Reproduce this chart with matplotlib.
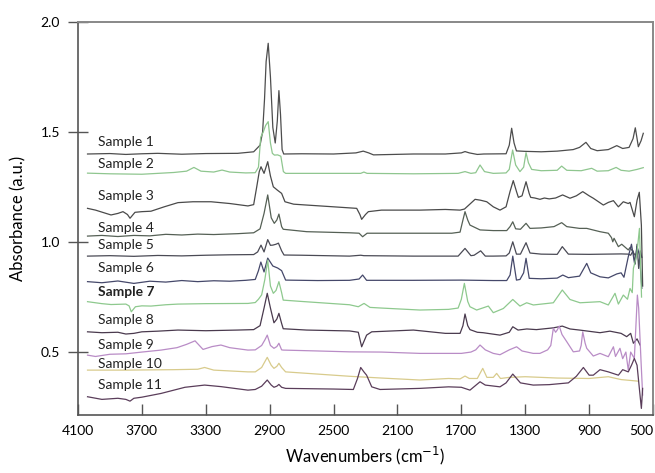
import numpy as np
import matplotlib
matplotlib.use("Agg")
import matplotlib.pyplot as plt

plt.rcParams['font.family'] = ['Lato', 'DejaVu Sans']

## -- spectra (wavenumber cm-1, absorbance a.u.) -- ##

s1_wn = [4040, 3900, 3800, 3700, 3600, 3450, 3300, 3100, 3000, 2960, 2944, 2932, 2922, 2909, 2895, 2880, 2865, 2852, 2842, 2832, 2822, 2812,
         2700, 2500, 2360, 2314, 2280, 2250, 2000, 1800, 1700, 1677, 1650, 1600, 1560, 1420, 1400, 1385, 1370, 1355, 1300, 1200, 1100,
         1000, 960, 920, 890, 850, 780, 727, 690, 650, 625, 611, 600, 592, 575, 561]
s1_ab = [1.400, 1.402, 1.398, 1.401, 1.403, 1.399, 1.402, 1.403, 1.410, 1.440, 1.500, 1.650, 1.820, 1.903, 1.750, 1.520, 1.450, 1.550, 1.688, 1.580, 1.420, 1.400,
         1.401, 1.400, 1.405, 1.413, 1.405, 1.396, 1.400, 1.400, 1.405, 1.411, 1.405, 1.398, 1.400, 1.401, 1.440, 1.517, 1.450, 1.414, 1.412, 1.410, 1.413,
         1.420, 1.430, 1.453, 1.425, 1.415, 1.420, 1.438, 1.425, 1.430, 1.470, 1.519, 1.470, 1.433, 1.460, 1.494]

s2_wn = [4040, 3900, 3700, 3500, 3420, 3374, 3330, 3250, 3198, 3150, 3050, 2990, 2970, 2956, 2940, 2925, 2909, 2895, 2883, 2870, 2850, 2830, 2814, 2800,
         2600, 2330, 2310, 2290, 2000, 1720, 1677, 1640, 1610, 1583, 1555, 1500, 1420, 1400, 1379, 1360, 1333, 1310, 1295, 1280, 1260, 1200, 1100,
         1072, 1040, 950, 884, 850, 780, 731, 700, 650, 600, 561]
s2_ab = [1.313, 1.310, 1.308, 1.316, 1.322, 1.339, 1.322, 1.318, 1.327, 1.318, 1.314, 1.315, 1.340, 1.476, 1.500, 1.530, 1.547, 1.450, 1.403, 1.395, 1.396, 1.390, 1.320, 1.312,
         1.312, 1.312, 1.318, 1.312, 1.310, 1.312, 1.320, 1.312, 1.315, 1.350, 1.320, 1.312, 1.314, 1.330, 1.418, 1.350, 1.320, 1.340, 1.406, 1.360, 1.330, 1.324, 1.326,
         1.345, 1.326, 1.324, 1.335, 1.322, 1.324, 1.339, 1.326, 1.322, 1.330, 1.338]

s3_wn = [4040, 3990, 3893, 3850, 3818, 3790, 3774, 3743, 3700, 3643, 3560, 3474, 3380, 3267, 3150, 3036, 3000, 2981, 2965, 2954, 2935, 2912, 2895,
         2877, 2852, 2825, 2804, 2750, 2668, 2500, 2355, 2335, 2324, 2300, 2282, 2200, 1959, 1800, 1708, 1680, 1614, 1580, 1541, 1500, 1458, 1420,
         1395, 1375, 1355, 1343, 1320, 1295, 1275, 1266, 1240, 1208, 1180, 1150, 1110, 1066, 1020, 980, 940, 900, 874, 811, 780, 748, 717, 686,
         655, 644, 617, 600, 586, 573, 565]
s3_ab = [1.153, 1.145, 1.123, 1.130, 1.138, 1.125, 1.108, 1.135, 1.138, 1.140, 1.160, 1.179, 1.183, 1.183, 1.175, 1.164, 1.170, 1.250, 1.320, 1.342, 1.312, 1.365, 1.300,
         1.251, 1.236, 1.221, 1.183, 1.172, 1.168, 1.160, 1.153, 1.125, 1.103, 1.125, 1.138, 1.145, 1.145, 1.148, 1.145, 1.150, 1.194, 1.190, 1.183, 1.160, 1.145, 1.160,
         1.230, 1.279, 1.230, 1.203, 1.210, 1.274, 1.220, 1.203, 1.200, 1.194, 1.200, 1.196, 1.200, 1.214, 1.199, 1.210, 1.229, 1.210, 1.199, 1.168, 1.180, 1.188, 1.160, 1.183,
         1.175, 1.180, 1.115, 1.190, 1.226, 1.077, 0.800]

s4_wn = [4040, 3950, 3850, 3750, 3650, 3550, 3450, 3350, 3250, 3100, 3000, 2960, 2935, 2912, 2890, 2871, 2855, 2842, 2825, 2815, 2668, 2400, 2340,
         2318, 2290, 2000, 1760, 1708, 1690, 1677, 1660, 1646, 1583, 1500, 1416, 1395, 1378, 1360, 1330, 1295, 1270, 1200, 1120, 1072, 1040, 960,
         915, 832, 780, 760, 752, 744, 717, 696, 655, 644, 630, 613, 600]
s4_ab = [1.027, 1.030, 1.025, 1.030, 1.028, 1.035, 1.032, 1.036, 1.034, 1.038, 1.042, 1.060, 1.130, 1.214, 1.110, 1.085, 1.100, 1.127, 1.070, 1.058, 1.047, 1.042, 1.040,
         1.024, 1.040, 1.040, 1.040, 1.045, 1.100, 1.138, 1.100, 1.077, 1.055, 1.052, 1.052, 1.070, 1.092, 1.060, 1.058, 1.085, 1.062, 1.064, 1.070, 1.088, 1.070, 1.062,
         1.062, 1.047, 1.040, 1.020, 1.001, 1.017, 0.979, 0.990, 0.964, 0.975, 0.960, 0.941, 0.950]

s5_wn = [4040, 3900, 3750, 3600, 3450, 3300, 3150, 3000, 2975, 2954, 2935, 2912, 2895, 2880, 2860, 2845, 2825, 2810, 2700, 2400, 2330, 2310, 2000,
         1720, 1677, 1640, 1620, 1579, 1550, 1500, 1420, 1400, 1378, 1355, 1330, 1295, 1270, 1200, 1100, 1068, 1030, 900, 800, 700, 655, 640,
         625, 612, 600, 590, 580, 570]
s5_ab = [0.936, 0.938, 0.935, 0.939, 0.937, 0.940, 0.942, 0.943, 0.955, 0.986, 0.955, 1.011, 0.985, 0.986, 0.990, 0.995, 0.960, 0.941, 0.940, 0.936, 0.940, 0.938, 0.936,
         0.936, 0.971, 0.938, 0.940, 0.960, 0.936, 0.936, 0.937, 0.950, 1.001, 0.945, 0.945, 0.997, 0.950, 0.945, 0.944, 0.979, 0.945, 0.944, 0.945, 0.946, 0.945, 0.940,
         0.960, 0.900, 0.990, 0.880, 0.960, 0.930]

s6_wn = [4040, 3950, 3850, 3750, 3650, 3550, 3450, 3350, 3250, 3150, 3050, 2990, 2970, 2955, 2935, 2912, 2880, 2850, 2825, 2800, 2600, 2400, 2340,
         2318, 2293, 2000, 1700, 1500, 1416, 1395, 1378, 1355, 1333, 1310, 1295, 1275, 1200, 1100, 1065, 1030, 960, 915, 890, 832, 780, 727, 700,
         682, 655, 635, 615, 600, 585, 570]
s6_ab = [0.820, 0.815, 0.823, 0.812, 0.822, 0.818, 0.825, 0.820, 0.824, 0.822, 0.826, 0.830, 0.870, 0.909, 0.864, 0.927, 0.891, 0.882, 0.870, 0.827, 0.825, 0.826, 0.832,
         0.850, 0.826, 0.826, 0.827, 0.825, 0.825, 0.850, 0.936, 0.827, 0.830, 0.860, 0.926, 0.835, 0.833, 0.836, 0.850, 0.838, 0.845, 0.903, 0.860, 0.842, 0.837, 0.855, 0.860,
         0.840, 0.933, 0.990, 0.900, 0.980, 0.940, 0.790]

s7_wn = [4040, 3950, 3893, 3800, 3780, 3766, 3740, 3700, 3643, 3550, 3474, 3300, 3036, 2990, 2970, 2950, 2930, 2912, 2895, 2877, 2860, 2842, 2825, 2815,
         2700, 2400, 2345, 2309, 2272, 2200, 1959, 1780, 1720, 1700, 1681, 1660, 1646, 1604, 1531, 1500, 1437, 1378, 1333, 1291, 1249, 1124, 1068, 1020,
         957, 832, 780, 738, 717, 686, 660, 644, 630, 623, 602, 585, 578, 572]
s7_ab = [0.729, 0.720, 0.716, 0.718, 0.710, 0.683, 0.706, 0.710, 0.709, 0.715, 0.718, 0.720, 0.721, 0.725, 0.740, 0.760, 0.830, 0.918, 0.800, 0.767, 0.780, 0.820, 0.770, 0.736,
         0.730, 0.715, 0.706, 0.721, 0.703, 0.700, 0.691, 0.694, 0.700, 0.740, 0.812, 0.730, 0.706, 0.691, 0.709, 0.679, 0.698, 0.739, 0.709, 0.724, 0.714, 0.724, 0.782, 0.739,
         0.724, 0.729, 0.714, 0.767, 0.718, 0.759, 0.740, 0.789, 0.770, 0.880, 0.940, 1.062, 0.900, 0.750]

s8_wn = [4040, 3950, 3850, 3800, 3750, 3700, 3600, 3474, 3300, 3100, 3000, 2960, 2935, 2915, 2895, 2873, 2855, 2842, 2825, 2815, 2668, 2400, 2345,
         2324, 2293, 2261, 2000, 1800, 1708, 1690, 1677, 1660, 1646, 1600, 1564, 1458, 1400, 1378, 1345, 1290, 1230, 1124, 1068, 1020, 960, 832,
         770, 700, 665, 640, 623, 600, 581]
s8_ab = [0.592, 0.588, 0.590, 0.582, 0.585, 0.592, 0.595, 0.600, 0.597, 0.600, 0.602, 0.620, 0.700, 0.767, 0.700, 0.633, 0.650, 0.676, 0.630, 0.606, 0.600, 0.596, 0.590,
         0.524, 0.577, 0.592, 0.600, 0.585, 0.585, 0.620, 0.673, 0.620, 0.602, 0.590, 0.588, 0.577, 0.590, 0.615, 0.600, 0.605, 0.602, 0.610, 0.618, 0.605, 0.600, 0.588,
         0.595, 0.585, 0.570, 0.585, 0.540, 0.560, 0.532]

s9_wn = [4040, 3990, 3900, 3800, 3700, 3580, 3480, 3420, 3367, 3340, 3317, 3260, 3205, 3150, 3036, 2990, 2950, 2930, 2915, 2895, 2873, 2855, 2842,
         2825, 2815, 2600, 2400, 2200, 1959, 1700, 1640, 1610, 1583, 1550, 1500, 1458, 1400, 1354, 1320, 1250, 1208, 1160, 1140, 1124, 1110, 1100,
         1087, 1070, 1040, 999, 960, 950, 940, 925, 915, 874, 832, 780, 748, 735, 707, 690, 670, 655, 640, 617, 598, 590, 575, 565]
s9_ab = [0.486, 0.480, 0.490, 0.492, 0.500, 0.509, 0.520, 0.535, 0.551, 0.530, 0.512, 0.525, 0.532, 0.520, 0.509, 0.510, 0.530, 0.555, 0.577, 0.530, 0.517, 0.525, 0.540,
         0.510, 0.509, 0.505, 0.501, 0.500, 0.494, 0.494, 0.500, 0.510, 0.532, 0.510, 0.494, 0.488, 0.510, 0.524, 0.505, 0.494, 0.494, 0.510, 0.530, 0.608, 0.590, 0.600,
         0.618, 0.580, 0.547, 0.501, 0.505, 0.530, 0.592, 0.540, 0.517, 0.482, 0.494, 0.479, 0.524, 0.480, 0.517, 0.470, 0.500, 0.418, 0.500, 0.471, 0.759, 0.700, 0.456, 0.305]

s10_wn = [4040, 3800, 3500, 3350, 3307, 3250, 3036, 2990, 2950, 2915, 2890, 2873, 2855, 2842, 2825, 2800, 2600, 2400, 2200, 1959, 1780, 1708,
          1677, 1650, 1600, 1566, 1540, 1500, 1479, 1455, 1400, 1300, 1100, 900, 780, 700, 596]
s10_ab = [0.418, 0.418, 0.420, 0.422, 0.430, 0.418, 0.410, 0.410, 0.430, 0.476, 0.440, 0.426, 0.435, 0.449, 0.430, 0.410, 0.400, 0.390, 0.382, 0.373, 0.380, 0.378,
          0.391, 0.380, 0.380, 0.426, 0.385, 0.385, 0.403, 0.380, 0.385, 0.388, 0.382, 0.380, 0.388, 0.375, 0.368]

s11_wn = [4040, 3950, 3850, 3800, 3774, 3750, 3700, 3580, 3430, 3307, 3205, 3036, 2990, 2950, 2915, 2890, 2873, 2855, 2842, 2825, 2800, 2500,
          2376, 2350, 2330, 2310, 2293, 2261, 2209, 1959, 1780, 1700, 1646, 1583, 1550, 1458, 1420, 1378, 1330, 1250, 1150, 1030, 980, 936, 900,
          874, 832, 780, 717, 690, 655, 635, 617, 600, 585, 573, 565]
s11_ab = [0.297, 0.285, 0.290, 0.285, 0.277, 0.290, 0.295, 0.312, 0.340, 0.350, 0.343, 0.327, 0.330, 0.345, 0.373, 0.350, 0.340, 0.345, 0.353, 0.340, 0.335, 0.332,
          0.330, 0.380, 0.430, 0.410, 0.395, 0.342, 0.330, 0.335, 0.342, 0.340, 0.327, 0.365, 0.350, 0.342, 0.360, 0.400, 0.360, 0.350, 0.352, 0.360, 0.390, 0.430, 0.395,
          0.395, 0.420, 0.410, 0.395, 0.420, 0.410, 0.440, 0.471, 0.440, 0.330, 0.244, 0.335]

spectra = [(s1_wn, s1_ab), (s2_wn, s2_ab), (s3_wn, s3_ab), (s4_wn, s4_ab), (s5_wn, s5_ab), (s6_wn, s6_ab),
           (s7_wn, s7_ab), (s8_wn, s8_ab), (s9_wn, s9_ab), (s10_wn, s10_ab), (s11_wn, s11_ab)]
names = ['Sample %d' % i for i in range(1, 12)]
colors = ['#4d4d4d', '#8fc68f', '#4a4a4a', '#556055', '#4a4a55', '#45486a',
          '#8ec98e', '#4a3a4e', '#b98cc6', '#d8cb8c', '#5a3d5a']

# where each name sits (left edge in cm-1, centre in a.u.)
label_x = 3975
label_y = [1.455, 1.355, 1.209, 1.064, 0.986, 0.882, 0.773, 0.645, 0.532, 0.445, 0.350]

## -- FIGURE -- ##

fig = plt.figure(figsize=(6.55, 4.73), dpi=100)
ax = fig.add_axes([0.119, 0.1226, 0.878, 0.831])

for (wn, ab), c in zip(spectra, colors):
    ax.plot(wn, ab, color=c, lw=0.9)

for name, y in zip(names, label_y):
    ax.text(label_x, y, name, fontsize=10, va='center', ha='left',
            fontweight='bold' if name == 'Sample 7' else 'normal', color='#222222')

ax.set_xlim(4100, 500)
ax.set_ylim(0.214, 2.0)
ax.set_xticks([4100, 3700, 3300, 2900, 2500, 2100, 1700, 1300, 900, 500])
ax.set_yticks([0.5, 1.0, 1.5, 2.0])
ax.yaxis.set_major_formatter(matplotlib.ticker.FormatStrFormatter('%.1f'))
ax.tick_params(axis='x', direction='in', length=8, width=1, color='#555555', labelsize=10, pad=7)
ax.tick_params(axis='y', direction='inout', length=14, width=1, color='#555555', labelsize=10, pad=6)
ax.get_xticklabels()[-1].set_horizontalalignment('right')

for side in ['left', 'bottom']:
    ax.spines[side].set_color('#555555')
    ax.spines[side].set_linewidth(1.2)
for side in ['top', 'right']:
    ax.spines[side].set_color('#888888')
    ax.spines[side].set_linewidth(1.4)

ax.set_xlabel('Wavenumbers (cm$^{-1}$)', fontsize=12, labelpad=6)
ax.set_ylabel('Absorbance (a.u.)', fontsize=12, labelpad=10)

fig.savefig('out.png', dpi=100)
